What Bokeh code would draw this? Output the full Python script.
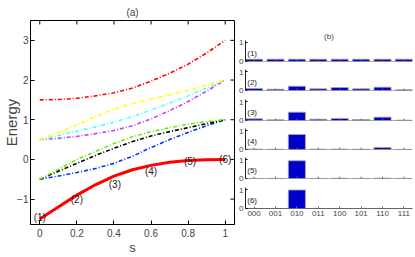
from bokeh.plotting import figure
from bokeh.layouts import row, column
from bokeh.models import FixedTicker, NumeralTickFormatter, Range1d, Span
from bokeh.embed import file_html
from bokeh.resources import INLINE
from bokeh.core.properties import value

FONT = "Liberation Sans"

# ---------------- data: panel (a) ----------------
s = [0.0, 0.1, 0.2, 0.3, 0.4, 0.5, 0.6, 0.7, 0.8, 0.9, 1.0]
e_ground = [-1.5, -1.2, -0.9, -0.64, -0.42, -0.26, -0.15, -0.07, -0.03, -0.01, 0.0]
e_blue = [-0.5, -0.42, -0.33, -0.23, -0.1, 0.08, 0.3, 0.5, 0.68, 0.85, 1.0]
e_black = [-0.5, -0.3, -0.1, 0.1, 0.28, 0.45, 0.59, 0.7, 0.8, 0.9, 1.0]
e_green = [-0.5, -0.25, 0.0, 0.2, 0.4, 0.57, 0.7, 0.8, 0.89, 0.95, 1.0]
e_magenta = [0.5, 0.53, 0.58, 0.65, 0.73, 0.85, 1.02, 1.23, 1.46, 1.72, 2.0]
e_cyan = [0.5, 0.6, 0.71, 0.82, 0.94, 1.08, 1.24, 1.42, 1.6, 1.8, 2.0]
e_yellow = [0.5, 0.67, 0.87, 1.08, 1.26, 1.41, 1.52, 1.63, 1.75, 1.87, 2.0]
e_red = [1.5, 1.51, 1.54, 1.6, 1.68, 1.8, 1.97, 2.17, 2.4, 2.68, 3.0]

excited = [e_blue, e_black, e_green, e_magenta, e_cyan, e_yellow, e_red]
excited_colors = ["#0033ff", "#000000", "#66ee00", "#bb44ff", "#55ffff", "#ffff00", "#ff0000"]

label_text = ["(1)", "(2)", "(3)", "(4)", "(5)", "(6)"]
label_s = [0.0, 0.2, 0.405, 0.6, 0.81, 1.0]
label_e = [-1.46, -1.01, -0.63, -0.31, -0.06, 0.0]

x_ticks = [0, 0.2, 0.4, 0.6, 0.8, 1]
y_ticks = [-1, 0, 1, 2, 3]

# ---------------- data: panel (b) ----------------
states = ["000", "001", "010", "011", "100", "101", "110", "111"]
prob = [
    [0.125, 0.125, 0.125, 0.125, 0.125, 0.125, 0.125, 0.125],
    [0.11, 0.07, 0.23, 0.09, 0.16, 0.09, 0.18, 0.04],
    [0.09, 0.04, 0.45, 0.07, 0.11, 0.05, 0.18, 0.02],
    [0.02, 0.01, 0.81, 0.02, 0.02, 0.01, 0.11, 0.0],
    [0.0, 0.0, 0.96, 0.0, 0.01, 0.0, 0.02, 0.0],
    [0.0, 0.0, 1.0, 0.0, 0.0, 0.0, 0.0, 0.0],
]
panel_labels = ["(1)", "(2)", "(3)", "(4)", "(5)", "(6)"]

# ---------------- panel (a) ----------------
XR = (-0.05, 1.05)
YR = (-1.64, 3.5)
p = figure(width=236, height=257, x_range=Range1d(*XR), y_range=Range1d(*YR),
           output_backend="svg", toolbar_location=None, title="(a)",
           min_border_left=0, min_border_right=2, min_border_top=20, min_border_bottom=32)
p.title.align = "center"
p.title.text_font_size = "10px"
p.title.text_font_style = "normal"
p.title.text_font = FONT
p.title.standoff = 6
p.xgrid.visible = False
p.ygrid.visible = False
p.outline_line_color = "black"
p.outline_line_alpha = 1.0

for ax in (p.xaxis[0], p.yaxis[0]):
    ax.major_tick_in = 4
    ax.major_tick_out = 0
    ax.minor_tick_line_color = None
    ax.axis_line_color = "black"
    ax.major_label_text_font = FONT
    ax.major_label_text_font_size = "10px"
    ax.axis_label_text_font = FONT
    ax.axis_label_text_font_style = "normal"

p.xaxis.ticker = FixedTicker(ticks=x_ticks)
p.xaxis.formatter = NumeralTickFormatter(format="0.[0]")
p.xaxis.major_label_standoff = 4
p.xaxis.axis_label = "s"
p.xaxis.axis_label_text_font_size = "13px"
p.xaxis.axis_label_standoff = 0
p.yaxis.ticker = FixedTicker(ticks=y_ticks)
p.yaxis.major_label_standoff = 2
p.yaxis.axis_label = "Energy"
p.yaxis.axis_label_text_font_size = "15px"
p.yaxis.axis_label_standoff = -6

# inward ticks on the right and top edges of the box
tick_dx = 0.022
tick_dy = 0.1
p.segment(x0=[XR[1]] * len(y_ticks), y0=y_ticks, x1=[XR[1] - tick_dx] * len(y_ticks), y1=y_ticks,
          line_color="black", line_width=1)
p.segment(x0=x_ticks, y0=[YR[1]] * len(x_ticks), x1=x_ticks, y1=[YR[1] - tick_dy] * len(x_ticks),
          line_color="black", line_width=1)

for e, c in zip(excited, excited_colors):
    p.line(s, e, line_color=c, line_width=1.6, line_dash="4 2 1 2")
p.line(s, e_ground, line_color="#ff0000", line_width=3)
p.text(x=label_s, y=label_e, text=label_text, text_align="center", text_baseline="middle",
       text_font_size="10px", text_font=value(FONT), text_color="#222222")

# ---------------- panel (b) ----------------
xs = list(range(1, len(states) + 1))
# (height, border top, border bottom) of each small panel
sizes = [(69, 40, 8), (29, 0, 8), (30, 1, 8), (29, 0, 8), (29, 0, 8), (71, 1, 49)]
figs = []
n = len(prob)
for i in range(n):
    first = i == 0
    last = i == n - 1
    h, bt, bb = sizes[i]
    f = figure(width=179, height=h, x_range=Range1d(0.6, 8.4), y_range=Range1d(0, 1.135),
               output_backend="svg", toolbar_location=None,
               title="(b)" if first else None,
               min_border_left=9, min_border_right=3, min_border_top=bt, min_border_bottom=bb)
    if first:
        f.title.align = "center"
        f.title.text_font_size = "8px"
        f.title.text_font_style = "normal"
        f.title.text_font = FONT
        f.title.standoff = 0
    f.xgrid.visible = False
    f.ygrid.visible = False
    f.outline_line_color = None
    f.vbar(x=xs, top=prob[i], width=0.8, bottom=0, fill_color="#0000cc",
           line_color="#aaaaaa", line_width=0.8)
    f.text(x=[0.68], y=[0.45], text=[panel_labels[i]], text_align="left",
           text_baseline="middle", text_font_size="8px", text_font=value(FONT),
           text_color="#222222")
    f.yaxis.ticker = FixedTicker(ticks=[0, 1])
    f.yaxis.major_label_text_font_size = "8px"
    f.yaxis.major_label_text_font = FONT
    f.yaxis.major_label_standoff = 2
    f.yaxis.major_tick_in = 2
    f.yaxis.major_tick_out = 0
    f.yaxis.minor_tick_line_color = None
    f.yaxis.axis_line_color = "#222222"
    if last:
        f.xaxis.ticker = FixedTicker(ticks=xs)
        f.xaxis.major_tick_in = 2
        f.xaxis.major_tick_out = 0
        f.xaxis.minor_tick_line_color = None
        f.xaxis.axis_line_color = "#666666"
        f.xaxis.major_tick_line_color = "#666666"
        f.xaxis.major_label_overrides = {x: lab for x, lab in zip(xs, states)}
        f.xaxis.major_label_text_font_size = "8px"
        f.xaxis.major_label_text_font = FONT
        f.xaxis.major_label_standoff = 2
    else:
        f.xaxis.visible = False
        f.add_layout(Span(location=0, dimension="width", line_color="#666666", line_width=1))
        f.segment(x0=xs, y0=[0] * len(xs), x1=xs, y1=[0.1] * len(xs),
                  line_color="#666666", line_width=1)
    figs.append(f)

layout = row(p, column(*figs))
open("out.html", "w").write(file_html(layout, INLINE))
